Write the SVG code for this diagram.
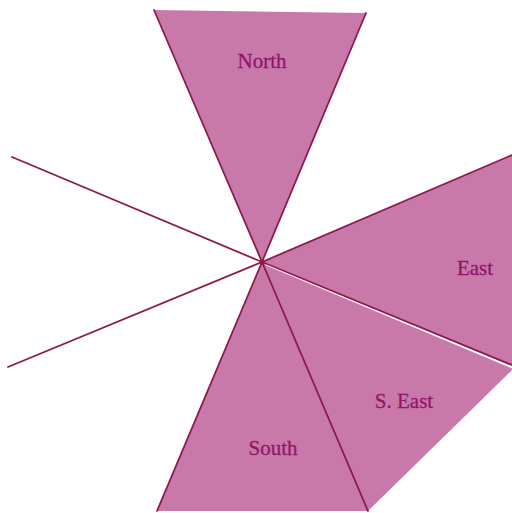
<svg xmlns="http://www.w3.org/2000/svg" width="512" height="513" viewBox="0 0 512 513">
<style>
.sector{fill:#C879AA;stroke:none}
.edge{stroke:#8E1A4C;stroke-width:1.8;stroke-linecap:round;fill:none}
.lbl{font-family:"Liberation Serif","DejaVu Serif",serif;font-size:21px;fill:#93156A;stroke:#93156A;stroke-width:0.3;text-anchor:middle}
</style>
<rect width="512" height="513" fill="#ffffff"/>
<g id="north">
<polygon class="sector" points="154,10 366,13 262,262"/>
<text class="lbl" x="262" y="68">North</text>
</g>
<g id="east">
<polygon class="sector" points="262,262 512,155 512,366"/>
<text class="lbl" x="475" y="275">East</text>
</g>
<g id="southeast">
<polygon class="sector" points="262,263 512,368 512,370 368,511"/>
<text class="lbl" x="404" y="408">S. East</text>
</g>
<g id="south">
<polygon class="sector" points="262,262 157,511 368,511"/>
<text class="lbl" x="273" y="455">South</text>
</g>
<g id="connectors">
<line class="edge" x1="154" y1="10" x2="262" y2="262"/>
<line class="edge" x1="366" y1="13" x2="262" y2="262"/>
<line class="edge" x1="12" y1="157" x2="262" y2="262"/>
<line class="edge" x1="8" y1="367" x2="262" y2="262"/>
<line class="edge" x1="262" y1="262" x2="512" y2="155"/>
<line class="edge" x1="262" y1="262" x2="512" y2="365"/>
<line x1="266" y1="265" x2="512" y2="368" stroke="#ffffff" stroke-width="1" opacity="0.8"/>
<line class="edge" x1="262" y1="262" x2="368" y2="511"/>
<line class="edge" x1="262" y1="262" x2="157" y2="511"/>
<circle cx="262" cy="262" r="2.5" fill="#8E1A4C"/>
</g>
</svg>
